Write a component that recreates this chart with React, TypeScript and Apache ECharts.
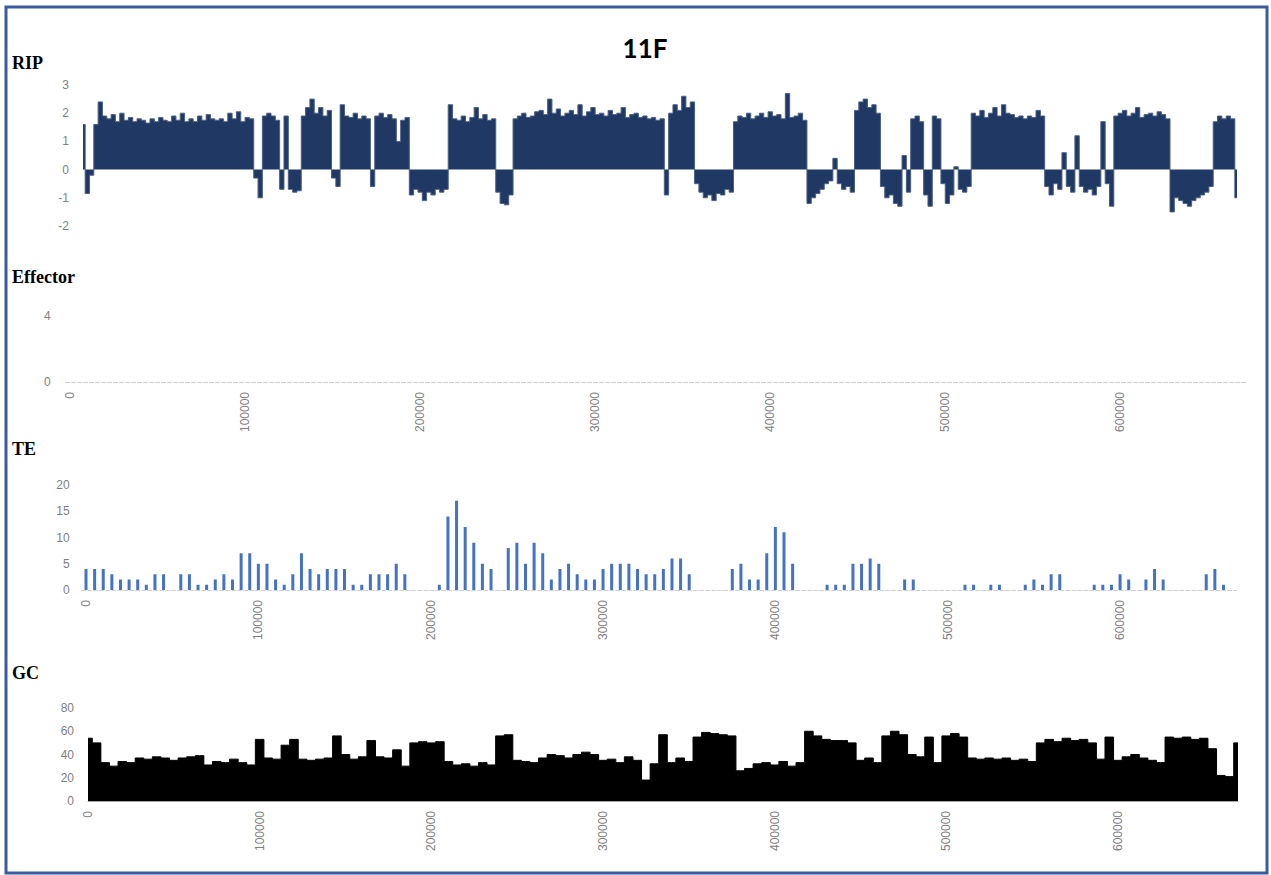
import React, { useEffect, useRef } from "react";
import * as echarts from "echarts";

// RIP index per 2500 bp window
const ripValues = [
  1.6, -0.85, -0.2, 1.6, 2.4, 1.9, 1.8, 1.95, 1.7, 2.0,
  1.75, 1.85, 1.7, 1.8, 1.75, 1.65, 1.8, 1.7, 1.85, 1.75,
  1.7, 1.9, 1.75, 2.0, 1.7, 1.8, 1.7, 1.9, 1.75, 1.95,
  1.8, 1.75, 1.8, 1.7, 2.0, 1.8, 2.05, 1.7, 1.85, 1.8,
  -0.3, -1.0, 1.9, 2.0, 1.9, 1.75, -0.7, 1.9, -0.7, -0.8,
  -0.75, 1.9, 2.2, 2.5, 2.0, 2.2, 1.9, 2.1, -0.3, -0.6,
  2.3, 1.9, 1.85, 2.0, 1.8, 1.9, 1.8, -0.6, 1.9, 2.0,
  1.85, 1.95, 1.8, 1.0, 1.75, 1.85, -0.9, -0.7, -0.8, -1.1,
  -0.8, -0.9, -0.7, -0.8, -0.7, 2.3, 1.8, 1.75, 1.9, 1.7,
  1.85, 2.2, 1.8, 1.95, 1.75, 1.8, -0.8, -1.2, -1.25, -0.9,
  1.8, 1.9, 2.0, 1.85, 1.9, 2.05, 2.1, 1.95, 2.5, 2.0,
  2.15, 1.9, 2.0, 2.1, 1.95, 2.3, 1.9, 2.05, 2.2, 1.95,
  2.0, 1.9, 2.1, 1.95, 2.0, 2.2, 1.85, 1.95, 2.0, 1.85,
  1.9, 1.8, 1.85, 1.75, 1.8, -0.9, 2.0, 2.3, 2.1, 2.6,
  2.2, 2.4, -0.5, -0.8, -1.0, -0.9, -1.1, -0.85, -0.9, -0.7,
  -0.8, 1.7, 1.9, 1.85, 2.0, 1.8, 1.9, 2.0, 1.85, 2.05,
  1.9, 1.95, 1.8, 2.7, 1.85, 1.9, 2.0, 1.75, -1.2, -1.0,
  -0.85, -0.7, -0.5, -0.4, 0.4, -0.5, -0.7, -0.6, -0.8, 2.1,
  2.4, 2.5, 2.2, 2.3, 2.0, -0.6, -1.0, -0.9, -1.2, -1.3,
  0.5, -0.8, 1.8, 1.9, 1.7, -0.9, -1.3, 1.9, 1.8, -0.5,
  -1.2, -0.9, 0.1, -0.7, -0.8, -0.6, 2.0, 1.9, 2.1, 1.85,
  2.0, 2.2, 1.9, 2.3, 2.0, 1.95, 1.85, 1.9, 1.8, 1.9,
  1.85, 2.1, 1.9, -0.6, -0.9, -0.5, -0.7, 0.6, -0.6, -0.8,
  1.2, -0.6, -0.8, -0.7, -0.9, -0.6, 1.7, -0.5, -1.3, 1.9,
  2.0, 2.1, 1.9, 2.0, 2.2, 1.85, 1.95, 2.0, 1.9, 2.05,
  1.95, 1.8, -1.5, -1.0, -1.1, -1.2, -1.3, -1.1, -1.0, -0.9,
  -0.8, -0.6, 1.7, 1.9, 1.8, 1.9, 1.8, -1.0,
];

// Effector counts per 5000 bp window (none found)
const effectorCounts: number[] = [];

// TE counts per 5000 bp window
const teCounts = [
  4, 4, 4, 3, 2, 2, 2, 1, 3, 3,
  0, 3, 3, 1, 1, 2, 3, 2, 7, 7,
  5, 5, 2, 1, 3, 7, 4, 3, 4, 4,
  4, 1, 1, 3, 3, 3, 5, 3, 0, 0,
  0, 1, 14, 17, 12, 9, 5, 4, 0, 8,
  9, 5, 9, 7, 2, 4, 5, 3, 2, 2,
  4, 5, 5, 5, 4, 3, 3, 4, 6, 6,
  3, 0, 0, 0, 0, 4, 5, 2, 2, 7,
  12, 11, 5, 0, 0, 0, 1, 1, 1, 5,
  5, 6, 5, 0, 0, 2, 2, 0, 0, 0,
  0, 0, 1, 1, 0, 1, 1, 0, 0, 1,
  2, 1, 3, 3, 0, 0, 0, 1, 1, 1,
  3, 2, 0, 2, 4, 2, 0, 0, 0, 0,
  3, 4, 1, 0,
];

// GC content (%) per 5000 bp window
const gcPercent = [
  54, 50, 33, 30, 34, 33, 37, 36, 38, 37,
  35, 37, 38, 39, 31, 34, 33, 36, 33, 31,
  53, 37, 36, 48, 53, 36, 35, 36, 37, 56,
  40, 36, 38, 52, 38, 37, 44, 30, 50, 51,
  50, 51, 34, 31, 32, 30, 33, 31, 56, 57,
  35, 34, 33, 37, 40, 39, 37, 40, 42, 40,
  35, 36, 33, 38, 35, 18, 32, 57, 33, 37,
  34, 55, 59, 58, 57, 56, 26, 28, 32, 33,
  31, 34, 30, 33, 60, 56, 53, 52, 52, 50,
  35, 37, 33, 56, 60, 57, 40, 38, 55, 33,
  56, 58, 55, 37, 36, 37, 36, 37, 35, 36,
  34, 50, 53, 51, 54, 52, 53, 50, 36, 55,
  35, 38, 40, 37, 35, 33, 55, 54, 55, 53,
  54, 45, 22, 21, 50,
];

const ripStep = 2500;
const binStep = 5000;
const effectorBins = 135;

const ripPositions = ripValues.map((_, i) => String(i * ripStep));
const tePositions = teCounts.map((_, i) => String(i * binStep));
const gcPositions = gcPercent.map((_, i) => String(i * binStep));
const effectorPositions = Array.from({ length: effectorBins }, (_, i) => String(i * binStep));

const labelGray = "#7f7f7f";
const sansFont = "'Liberation Sans', Arial, sans-serif";
const serifFont = "'Liberation Serif', 'DejaVu Serif', serif";

export default function App() {
  const ref = useRef<HTMLDivElement>(null);

  useEffect(() => {
    if (!ref.current) return;
    const chart = echarts.init(ref.current, undefined, { renderer: "svg" });

    const yLabel = (margin: number) => ({
      color: labelGray,
      fontSize: 12,
      fontFamily: sansFont,
      margin,
    });
    const xLabel = {
      color: labelGray,
      fontSize: 12,
      fontFamily: sansFont,
      rotate: 90,
      interval: 19,
      margin: 10,
    };

    const panelLabel = (text: string, x: number, y: number) => ({
      type: "text",
      left: x,
      top: y,
      style: {
        text,
        font: `bold 18px ${serifFont}`,
        fill: "#000",
      },
    });

    const option: any = {
      animation: false,
      backgroundColor: "#fff",
      graphic: [
        {
          type: "rect",
          shape: { x: 6, y: 7, width: 1261, height: 866 },
          style: { fill: "none", stroke: "#3a5c9e", lineWidth: 3 },
        },
        {
          type: "text",
          x: 645,
          y: 48,
          style: {
            text: "11F",
            font: "bold 26px Lato, 'Open Sans', sans-serif",
            fill: "#000",
            align: "center",
            verticalAlign: "middle",
          },
        },
        panelLabel("RIP", 12, 54),
        panelLabel("Effector", 12, 268),
        panelLabel("TE", 12, 440),
        panelLabel("GC", 12, 664),
      ],
      grid: [
        { left: 83, top: 85, width: 1154, height: 141 },
        { left: 65.6, top: 316, width: 1181, height: 66 },
        { left: 81.7, top: 485, width: 1154.7, height: 105 },
        { left: 88, top: 708, width: 1150, height: 93 },
      ],
      xAxis: [
        {
          gridIndex: 0,
          type: "category",
          data: ripPositions,
          boundaryGap: false,
          show: false,
        },
        {
          gridIndex: 1,
          type: "category",
          data: effectorPositions,
          boundaryGap: true,
          axisLine: { lineStyle: { color: "#d0d0d0", type: "dashed", width: 1 } },
          axisTick: { show: false },
          axisLabel: xLabel,
        },
        {
          gridIndex: 2,
          type: "category",
          data: tePositions,
          boundaryGap: true,
          axisLine: { lineStyle: { color: "#d0d0d0", type: "dashed", width: 1 } },
          axisTick: { show: false },
          axisLabel: xLabel,
        },
        {
          gridIndex: 3,
          type: "category",
          data: gcPositions,
          boundaryGap: false,
          axisLine: { lineStyle: { color: "#a6a6a6", width: 1 } },
          axisTick: { show: false },
          axisLabel: xLabel,
        },
      ],
      yAxis: [
        {
          gridIndex: 0,
          type: "value",
          min: -2,
          max: 3,
          interval: 1,
          axisLine: { show: false },
          axisTick: { show: false },
          splitLine: { show: false },
          axisLabel: yLabel(14),
        },
        {
          gridIndex: 1,
          type: "value",
          min: 0,
          max: 4,
          interval: 4,
          axisLine: { show: false },
          axisTick: { show: false },
          splitLine: { show: false },
          axisLabel: yLabel(15),
        },
        {
          gridIndex: 2,
          type: "value",
          min: 0,
          max: 20,
          interval: 5,
          axisLine: { show: false },
          axisTick: { show: false },
          splitLine: { show: false },
          axisLabel: yLabel(12),
        },
        {
          gridIndex: 3,
          type: "value",
          min: 0,
          max: 80,
          interval: 20,
          axisLine: { show: false },
          axisTick: { show: false },
          splitLine: { show: false },
          axisLabel: yLabel(14),
        },
      ],
      series: [
        {
          name: "RIP",
          type: "line",
          xAxisIndex: 0,
          yAxisIndex: 0,
          data: ripValues,
          symbol: "none",
          step: "middle",
          lineStyle: { color: "#4a5f85", width: 1 },
          areaStyle: { color: "#203864", opacity: 1, origin: 0 },
        },
        {
          name: "Effector",
          type: "bar",
          xAxisIndex: 1,
          yAxisIndex: 1,
          data: effectorCounts,
          itemStyle: { color: "#4472c4" },
        },
        {
          name: "TE",
          type: "bar",
          xAxisIndex: 2,
          yAxisIndex: 2,
          data: teCounts,
          barWidth: 3,
          itemStyle: { color: "#4472c4" },
        },
        {
          name: "GC",
          type: "line",
          xAxisIndex: 3,
          yAxisIndex: 3,
          data: gcPercent,
          symbol: "none",
          step: "middle",
          lineStyle: { color: "#000", width: 1 },
          areaStyle: { color: "#000", opacity: 1, origin: 0 },
        },
      ],
    };

    chart.setOption(option);
    return () => chart.dispose();
  }, []);

  return (
    <div
      ref={ref}
      style={{ position: "absolute", left: 0, top: 0, width: 1271, height: 875 }}
    />
  );
}
